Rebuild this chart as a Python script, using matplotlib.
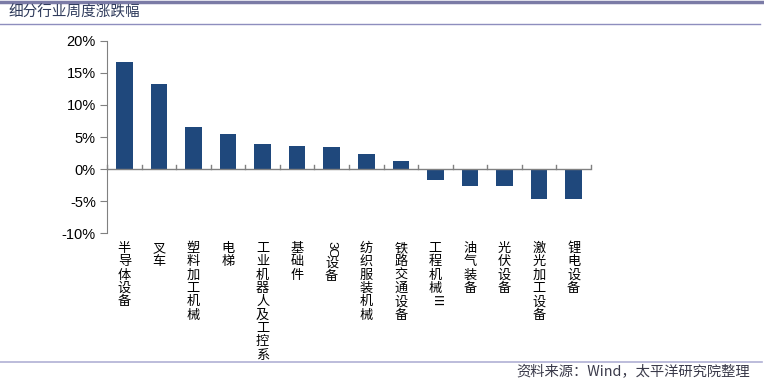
import matplotlib.pyplot as plt
from matplotlib.lines import Line2D
from matplotlib.transforms import blended_transform_factory

plt.rcParams['font.family'] = ['Liberation Sans', 'Noto Sans CJK SC', 'DejaVu Sans']

categories = ['半导体设备', '叉车', '塑料加工机械', '电梯', '工业机器人及工控系', '基础件',
              '3C设备', '纺织服装机械', '铁路交通设备', '工程机械Ⅲ', '油气装备', '光伏设备',
              '激光加工设备', '锂电设备']
changes = [16.7, 13.2, 6.5, 5.4, 3.85, 3.6, 3.4, 2.3, 1.2, -1.65, -2.7, -2.65, -4.65, -4.65]
yticks = [-10, -5, 0, 5, 10, 15, 20]

W, H = 764, 382
fig = plt.figure(figsize=(W / 100, H / 100), dpi=100)
ax = fig.add_axes([107 / W, 1 - 233.3 / H, (591 - 107) / W, (233.3 - 40.7) / H])

x = range(len(categories))
ax.bar(x, changes, width=0.48, color='#1F487C', zorder=2)
ax.axhline(0, color='#808080', lw=1, zorder=3)

ax.set_xlim(-0.5, len(categories) - 0.5)
ax.set_ylim(-10, 20)
ax.set_yticks(yticks)
ax.set_yticklabels([f'{v}%' for v in yticks], fontsize=10.5, color='#000000')
ax.set_xticks([])
for sp in ['top', 'right', 'bottom']:
    ax.spines[sp].set_visible(False)
ax.spines['left'].set_color('#808080')
ax.tick_params(axis='y', direction='out', length=5, color='#808080', pad=3)

# small tick marks on the zero line between categories
for b in range(len(categories) + 1):
    xb = b - 0.5
    ax.plot([xb, xb], [0, 0.6], color='#808080', lw=1, zorder=3, clip_on=False)

# vertical category labels
tr = blended_transform_factory(ax.transData, fig.transFigure)
pitch = 13.3
cjk = ['Noto Sans CJK SC', 'DejaVu Sans']
for i, name in enumerate(categories):
    top = 242
    chars = list(name)
    if name.startswith('3C'):
        ax.text(i, 1 - (top + 7) / H, '3C', transform=tr, rotation=-90,
                ha='center', va='center', fontsize=9.5)
        top += 15
        chars = chars[2:]
    for j, ch in enumerate(chars):
        yc = top + j * pitch + pitch / 2
        rot = -90 if ch == 'Ⅲ' else 0
        ax.text(i, 1 - yc / H, ch, transform=tr, ha='center', va='center',
                fontsize=9.5, rotation=rot, family=cjk)

# header and footer
fig.add_artist(Line2D([0, 1], [1 - 1.5 / H, 1 - 1.5 / H], color='#7B7BA6', lw=2.5))
fig.add_artist(Line2D([0, 760 / W], [1 - 24 / H, 1 - 24 / H], color='#8E8EBE', lw=1))
fig.text(8 / W, 1 - 13 / H, '细分行业周度涨跌幅', ha='left', va='center', fontsize=10.5,
         color='#2F3B5C', family=cjk)
fig.add_artist(Line2D([0, 762 / W], [1 - 361.5 / H, 1 - 361.5 / H], color='#B0B0D4', lw=1.2))
fig.text(750 / W, 1 - 371 / H, '资料来源：Wind，太平洋研究院整理', ha='right', va='center',
         fontsize=10.3, style='italic', color='#3A3A4A', family=cjk)

fig.savefig('out.png', dpi=100, facecolor='white')
